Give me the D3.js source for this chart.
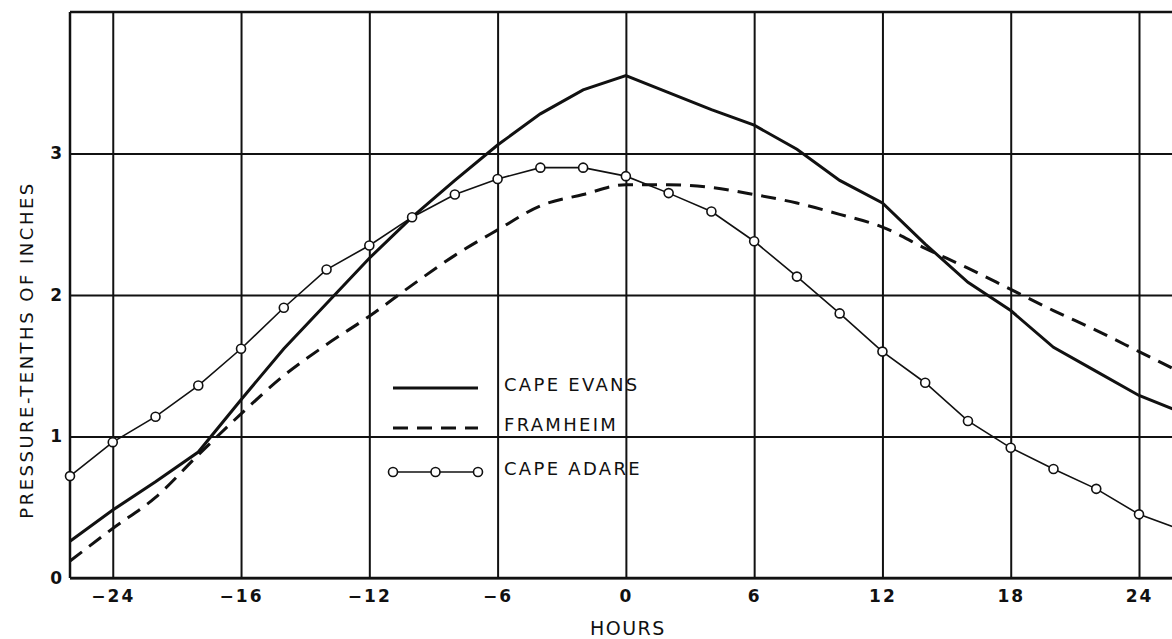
<!DOCTYPE html>
<html lang="en">

<head>
    <meta charset="utf-8">
    <title>Pressure - tenths of inches</title>
    <script type="text/javascript" src="https://cdn.jsdelivr.net/npm/d3@7"></script>
    <style>
        body { margin: 0; background: #fff; }
        text { font-family: "DejaVu Sans", sans-serif; fill: #111; }
    </style>
</head>

<body>
    <script type="text/javascript">
        // Width and height
        var w = 1172;
        var h = 639;

        // Data ------------------------------------------------
        var hours = [-26, -24, -22, -20, -18, -16, -14, -12, -10, -8, -6, -4, -2, 0,
            2, 4, 6, 8, 10, 12, 14, 16, 18, 20, 22, 24, 26];

        var capeEvans = [0.26, 0.48, 0.68, 0.89, 1.26, 1.62, 1.94, 2.26, 2.55, 2.81, 3.06, 3.28, 3.45, 3.55,
            3.43, 3.31, 3.20, 3.03, 2.81, 2.65, 2.36, 2.09, 1.89, 1.63, 1.46, 1.29, 1.17];

        var framheim = [0.12, 0.35, 0.57, 0.87, 1.16, 1.43, 1.65, 1.85, 2.07, 2.28, 2.46, 2.63, 2.71, 2.78,
            2.78, 2.76, 2.71, 2.65, 2.57, 2.48, 2.33, 2.19, 2.04, 1.89, 1.75, 1.60, 1.45];

        var capeAdare = [0.72, 0.96, 1.14, 1.36, 1.62, 1.91, 2.18, 2.35, 2.55, 2.71, 2.82, 2.90, 2.90, 2.84,
            2.72, 2.59, 2.38, 2.13, 1.87, 1.60, 1.38, 1.11, 0.92, 0.77, 0.63, 0.45, 0.34];

        // tick values and the labels as printed on the sheet
        var xTicks = [-24, -18, -12, -6, 0, 6, 12, 18, 24];
        var xTickLabels = ["\u221224", "\u221216", "\u221212", "\u22126", "0", "6", "12", "18", "24"];
        var yTicks = [0, 1, 2, 3];

        var seriesNames = ["CAPE EVANS", "FRAMHEIM", "CAPE ADARE"];

        // Scales ------------------------------------------------
        var plotLeft = 70, plotTop = 12, plotBottom = 578;

        var xScale = d3.scaleLinear()
            .domain([-26, 26])
            .range([plotLeft, plotLeft + 52 * 21.38]);

        var yScale = d3.scaleLinear()
            .domain([0, 4])
            .range([plotBottom, plotTop]);

        var svg = d3.select("body")
            .append("svg")
            .attr("width", w)
            .attr("height", h);

        // Grid / axes -------------------------------------------
        var xAxis = d3.axisBottom(xScale)
            .tickValues(xTicks)
            .tickSizeInner(-(plotBottom - plotTop))
            .tickSizeOuter(0)
            .tickPadding(12)
            .tickFormat(function(d, i) { return xTickLabels[i]; });

        var gx = svg.append("g")
            .attr("transform", "translate(0," + plotBottom + ")")
            .call(xAxis);
        gx.select(".domain").remove();
        gx.selectAll("line").attr("stroke", "#111").attr("stroke-width", 2);
        gx.selectAll("text")
            .attr("font-size", "17px")
            .attr("font-weight", "bold")
            .attr("letter-spacing", "2px");

        var yAxis = d3.axisLeft(yScale)
            .tickValues(yTicks)
            .tickSizeInner(-(w - plotLeft))
            .tickSizeOuter(0)
            .tickPadding(8)
            .tickFormat(d3.format("d"));

        var gy = svg.append("g")
            .attr("transform", "translate(" + plotLeft + ",0)")
            .call(yAxis);
        gy.select(".domain").remove();
        gy.selectAll("line").attr("stroke", "#111").attr("stroke-width", 2);
        gy.selectAll("text")
            .attr("font-size", "17px")
            .attr("font-weight", "bold");

        // frame: top, left and bottom edges
        svg.append("line")
            .attr("x1", plotLeft).attr("x2", w)
            .attr("y1", plotTop).attr("y2", plotTop)
            .attr("stroke", "#111").attr("stroke-width", 2.5);
        svg.append("line")
            .attr("x1", plotLeft).attr("x2", plotLeft)
            .attr("y1", plotTop).attr("y2", plotBottom)
            .attr("stroke", "#111").attr("stroke-width", 2.5);
        svg.append("line")
            .attr("x1", plotLeft).attr("x2", w)
            .attr("y1", plotBottom).attr("y2", plotBottom)
            .attr("stroke", "#111").attr("stroke-width", 2.5);

        // Axis titles
        svg.append("text")
            .attr("x", xScale(0) + 2)
            .attr("y", 635)
            .attr("text-anchor", "middle")
            .attr("font-size", "19px")
            .attr("letter-spacing", "1.5px")
            .text("HOURS");

        svg.append("text")
            .attr("transform", "translate(33,350) rotate(-90)")
            .attr("text-anchor", "middle")
            .attr("font-size", "18px")
            .attr("letter-spacing", "2.5px")
            .text("PRESSURE-TENTHS OF INCHES");

        // Lines -------------------------------------------------
        var plot = svg.append("g");

        function lineFor(values, curve) {
            return d3.line()
                .x(function(d, i) { return xScale(hours[i]); })
                .y(function(d) { return yScale(d); })
                .curve(curve)(values);
        }

        plot.append("path")
            .attr("d", lineFor(capeEvans, d3.curveLinear))
            .attr("fill", "none")
            .attr("stroke", "#111")
            .attr("stroke-width", 3);

        plot.append("path")
            .attr("d", lineFor(framheim, d3.curveMonotoneX))
            .attr("fill", "none")
            .attr("stroke", "#111")
            .attr("stroke-width", 3)
            .attr("stroke-dasharray", "15,9");

        plot.append("path")
            .attr("d", lineFor(capeAdare, d3.curveLinear))
            .attr("fill", "none")
            .attr("stroke", "#111")
            .attr("stroke-width", 1.6);

        plot.selectAll("circle.adare")
            .data(capeAdare)
            .enter()
            .append("circle")
            .attr("class", "adare")
            .attr("cx", function(d, i) { return xScale(hours[i]); })
            .attr("cy", function(d) { return yScale(d); })
            .attr("r", 4.5)
            .attr("fill", "#fff")
            .attr("stroke", "#111")
            .attr("stroke-width", 1.6);

        // Legend ------------------------------------------------
        var legend = svg.append("g");
        var lx1 = 393, lx2 = 478, ly = [388, 428, 472];

        legend.append("line")
            .attr("x1", lx1).attr("x2", lx2)
            .attr("y1", ly[0]).attr("y2", ly[0])
            .attr("stroke", "#111").attr("stroke-width", 3);

        legend.append("line")
            .attr("x1", lx1).attr("x2", lx2)
            .attr("y1", ly[1]).attr("y2", ly[1])
            .attr("stroke", "#111").attr("stroke-width", 3)
            .attr("stroke-dasharray", "15,9");

        legend.append("line")
            .attr("x1", lx1).attr("x2", lx2)
            .attr("y1", ly[2]).attr("y2", ly[2])
            .attr("stroke", "#111").attr("stroke-width", 1.6);

        legend.selectAll("circle")
            .data([lx1, (lx1 + lx2) / 2, lx2])
            .enter()
            .append("circle")
            .attr("cx", function(d) { return d; })
            .attr("cy", ly[2])
            .attr("r", 4.5)
            .attr("fill", "#fff")
            .attr("stroke", "#111")
            .attr("stroke-width", 1.6);

        legend.selectAll("text")
            .data(seriesNames)
            .enter()
            .append("text")
            .attr("x", 504)
            .attr("y", function(d, i) { return ly[i] + 3; })
            .attr("font-size", "18px")
            .attr("letter-spacing", "2.3px")
            .text(function(d) { return d; });
    </script>

</body>

</html>
